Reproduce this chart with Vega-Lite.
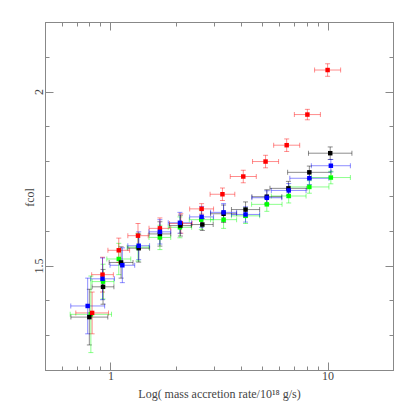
{
  "$schema": "https://vega.github.io/schema/vega-lite/v6.json",
  "autosize": "none",
  "width": 348,
  "height": 348,
  "padding": {"left": 45, "top": 22, "right": 22, "bottom": 45},
  "background": "white",
  "config": {
    "view": {"stroke": "#888888", "strokeWidth": 1},
    "axis": {
      "labelFont": "Liberation Serif",
      "titleFont": "Liberation Serif",
      "labelColor": "#444444",
      "titleColor": "#444444",
      "labelFontSize": 12,
      "titleFontSize": 12,
      "titleFontWeight": "normal",
      "domainColor": "#888888",
      "tickColor": "#888888",
      "grid": false
    }
  },
  "data": {
    "values": [
      {"s": "green", "x": 0.813, "y": 1.360, "xlo": 0.653, "xhi": 1.012, "ylo": 1.250, "yhi": 1.470},
      {"s": "green", "x": 0.925, "y": 1.454, "xlo": 0.824, "xhi": 1.038, "ylo": 1.404, "yhi": 1.504},
      {"s": "green", "x": 1.093, "y": 1.519, "xlo": 0.963, "xhi": 1.241, "ylo": 1.474, "yhi": 1.564},
      {"s": "green", "x": 1.34, "y": 1.553, "xlo": 1.194, "xhi": 1.503, "ylo": 1.513, "yhi": 1.593},
      {"s": "green", "x": 1.69, "y": 1.581, "xlo": 1.506, "xhi": 1.896, "ylo": 1.546, "yhi": 1.616},
      {"s": "green", "x": 2.09, "y": 1.610, "xlo": 1.846, "xhi": 2.366, "ylo": 1.580, "yhi": 1.640},
      {"s": "green", "x": 2.62, "y": 1.632, "xlo": 2.308, "xhi": 2.974, "ylo": 1.604, "yhi": 1.660},
      {"s": "green", "x": 3.32, "y": 1.632, "xlo": 2.892, "xhi": 3.811, "ylo": 1.607, "yhi": 1.657},
      {"s": "green", "x": 4.19, "y": 1.643, "xlo": 3.609, "xhi": 4.865, "ylo": 1.621, "yhi": 1.665},
      {"s": "green", "x": 5.25, "y": 1.676, "xlo": 4.468, "xhi": 6.169, "ylo": 1.656, "yhi": 1.696},
      {"s": "green", "x": 6.62, "y": 1.700, "xlo": 5.507, "xhi": 7.957, "ylo": 1.680, "yhi": 1.720},
      {"s": "green", "x": 8.24, "y": 1.726, "xlo": 6.699, "xhi": 10.14, "ylo": 1.708, "yhi": 1.744},
      {"s": "green", "x": 10.35, "y": 1.753, "xlo": 8.415, "xhi": 12.73, "ylo": 1.735, "yhi": 1.771},
      {"s": "red", "x": 0.824, "y": 1.364, "xlo": 0.693, "xhi": 0.980, "ylo": 1.304, "yhi": 1.424},
      {"s": "red", "x": 0.92, "y": 1.474, "xlo": 0.820, "xhi": 1.032, "ylo": 1.424, "yhi": 1.524},
      {"s": "red", "x": 1.093, "y": 1.544, "xlo": 0.974, "xhi": 1.226, "ylo": 1.509, "yhi": 1.579},
      {"s": "red", "x": 1.34, "y": 1.586, "xlo": 1.203, "xhi": 1.493, "ylo": 1.551, "yhi": 1.621},
      {"s": "red", "x": 1.69, "y": 1.607, "xlo": 1.506, "xhi": 1.896, "ylo": 1.577, "yhi": 1.637},
      {"s": "red", "x": 2.11, "y": 1.621, "xlo": 1.872, "xhi": 2.378, "ylo": 1.593, "yhi": 1.649},
      {"s": "red", "x": 2.63, "y": 1.663, "xlo": 2.317, "xhi": 2.985, "ylo": 1.648, "yhi": 1.678},
      {"s": "red", "x": 3.28, "y": 1.705, "xlo": 2.877, "xhi": 3.739, "ylo": 1.687, "yhi": 1.723},
      {"s": "red", "x": 4.09, "y": 1.756, "xlo": 3.563, "xhi": 4.695, "ylo": 1.738, "yhi": 1.774},
      {"s": "red", "x": 5.18, "y": 1.799, "xlo": 4.512, "xhi": 5.947, "ylo": 1.781, "yhi": 1.817},
      {"s": "red", "x": 6.48, "y": 1.846, "xlo": 5.645, "xhi": 7.439, "ylo": 1.828, "yhi": 1.864},
      {"s": "red", "x": 8.07, "y": 1.934, "xlo": 7.030, "xhi": 9.264, "ylo": 1.919, "yhi": 1.949},
      {"s": "red", "x": 10.0, "y": 2.062, "xlo": 8.711, "xhi": 11.48, "ylo": 2.044, "yhi": 2.080},
      {"s": "black", "x": 0.80, "y": 1.352, "xlo": 0.658, "xhi": 0.973, "ylo": 1.272, "yhi": 1.432},
      {"s": "black", "x": 0.925, "y": 1.439, "xlo": 0.824, "xhi": 1.038, "ylo": 1.389, "yhi": 1.489},
      {"s": "black", "x": 1.12, "y": 1.509, "xlo": 0.987, "xhi": 1.271, "ylo": 1.464, "yhi": 1.554},
      {"s": "black", "x": 1.35, "y": 1.550, "xlo": 1.203, "xhi": 1.515, "ylo": 1.510, "yhi": 1.590},
      {"s": "black", "x": 1.69, "y": 1.591, "xlo": 1.506, "xhi": 1.896, "ylo": 1.556, "yhi": 1.626},
      {"s": "black", "x": 2.1, "y": 1.615, "xlo": 1.872, "xhi": 2.356, "ylo": 1.585, "yhi": 1.645},
      {"s": "black", "x": 2.65, "y": 1.618, "xlo": 2.362, "xhi": 2.973, "ylo": 1.601, "yhi": 1.635},
      {"s": "black", "x": 3.32, "y": 1.649, "xlo": 2.892, "xhi": 3.811, "ylo": 1.624, "yhi": 1.674},
      {"s": "black", "x": 4.19, "y": 1.661, "xlo": 3.609, "xhi": 4.865, "ylo": 1.639, "yhi": 1.683},
      {"s": "black", "x": 5.25, "y": 1.698, "xlo": 4.480, "xhi": 6.153, "ylo": 1.678, "yhi": 1.718},
      {"s": "black", "x": 6.6, "y": 1.722, "xlo": 5.428, "xhi": 8.026, "ylo": 1.702, "yhi": 1.742},
      {"s": "black", "x": 8.24, "y": 1.768, "xlo": 6.545, "xhi": 10.37, "ylo": 1.750, "yhi": 1.786},
      {"s": "black", "x": 10.28, "y": 1.823, "xlo": 8.165, "xhi": 12.94, "ylo": 1.805, "yhi": 1.841},
      {"s": "blue", "x": 0.786, "y": 1.384, "xlo": 0.657, "xhi": 0.941, "ylo": 1.304, "yhi": 1.464},
      {"s": "blue", "x": 0.92, "y": 1.462, "xlo": 0.811, "xhi": 1.044, "ylo": 1.402, "yhi": 1.522},
      {"s": "blue", "x": 1.135, "y": 1.501, "xlo": 0.996, "xhi": 1.294, "ylo": 1.451, "yhi": 1.551},
      {"s": "blue", "x": 1.35, "y": 1.557, "xlo": 1.203, "xhi": 1.515, "ylo": 1.517, "yhi": 1.597},
      {"s": "blue", "x": 1.69, "y": 1.597, "xlo": 1.506, "xhi": 1.896, "ylo": 1.562, "yhi": 1.632},
      {"s": "blue", "x": 2.09, "y": 1.623, "xlo": 1.846, "xhi": 2.366, "ylo": 1.593, "yhi": 1.653},
      {"s": "blue", "x": 2.63, "y": 1.640, "xlo": 2.317, "xhi": 2.985, "ylo": 1.610, "yhi": 1.670},
      {"s": "blue", "x": 3.32, "y": 1.653, "xlo": 2.892, "xhi": 3.811, "ylo": 1.628, "yhi": 1.678},
      {"s": "blue", "x": 4.19, "y": 1.647, "xlo": 3.609, "xhi": 4.865, "ylo": 1.625, "yhi": 1.669},
      {"s": "blue", "x": 5.25, "y": 1.695, "xlo": 4.480, "xhi": 6.153, "ylo": 1.675, "yhi": 1.715},
      {"s": "blue", "x": 6.62, "y": 1.716, "xlo": 5.507, "xhi": 7.957, "ylo": 1.696, "yhi": 1.736},
      {"s": "blue", "x": 8.24, "y": 1.751, "xlo": 6.699, "xhi": 10.14, "ylo": 1.733, "yhi": 1.769},
      {"s": "blue", "x": 10.35, "y": 1.787, "xlo": 8.415, "xhi": 12.73, "ylo": 1.769, "yhi": 1.805}
    ]
  },
  "layer": [
    {
      "mark": {"type": "errorbar", "ticks": {"size": 5}, "opacity": 0.45},
      "encoding": {
        "x": {"field": "xlo", "type": "quantitative", "scale": {"type": "log", "domain": [0.5, 20], "nice": false}, "axis": null},
        "x2": {"field": "xhi"},
        "y": {"field": "y", "type": "quantitative", "scale": {"domain": [1.2, 2.2], "nice": false, "zero": false}, "axis": null},
        "color": {"field": "s", "type": "nominal", "scale": {"domain": ["red", "black", "blue", "green"], "range": ["#ff0000", "#000000", "#0000ff", "#00ff00"]}, "legend": null},
        "detail": {"field": "x", "type": "quantitative"}
      }
    },
    {
      "mark": {"type": "errorbar", "ticks": {"size": 5}, "opacity": 0.45},
      "encoding": {
        "y": {"field": "ylo", "type": "quantitative", "scale": {"domain": [1.2, 2.2], "nice": false, "zero": false}, "axis": null},
        "y2": {"field": "yhi"},
        "x": {"field": "x", "type": "quantitative", "scale": {"type": "log", "domain": [0.5, 20], "nice": false}, "axis": null},
        "color": {"field": "s", "type": "nominal", "legend": null}
      }
    },
    {
      "mark": {"type": "square", "filled": true, "size": 20, "opacity": 1},
      "encoding": {
        "x": {
          "field": "x", "type": "quantitative",
          "scale": {"type": "log", "domain": [0.5, 20], "nice": false},
          "axis": {
            "orient": "bottom",
            "title": "Log( mass accretion rate/10¹⁸ g/s)",
            "values": [0.5, 0.6, 0.7, 0.8, 0.9, 1, 2, 3, 4, 5, 6, 7, 8, 9, 10, 20],
            "format": "~g",
            "labelExpr": "datum.value == 1 || datum.value == 10 ? datum.label : ''",
            "tickSize": {"condition": {"test": "datum.value == 1 || datum.value == 10", "value": -8}, "value": -4},
            "labelPadding": 8,
            "labelFlush": false,
            "labelOverlap": false,
            "titlePadding": 3
          }
        },
        "y": {
          "field": "y", "type": "quantitative",
          "scale": {"domain": [1.2, 2.2], "nice": false, "zero": false},
          "axis": {
            "orient": "left",
            "title": "fcol",
            "values": [1.2, 1.3, 1.4, 1.5, 1.6, 1.7, 1.8, 1.9, 2.0, 2.1, 2.2],
            "format": "~g",
            "labelExpr": "datum.value == 1.5 || datum.value == 2 ? datum.label : ''",
            "tickSize": {"condition": {"test": "datum.value == 1.5 || datum.value == 2", "value": -8}, "value": -4},
            "labelAngle": -90,
            "labelAlign": "center",
            "labelBaseline": "bottom",
            "labelPadding": 8,
            "labelFlush": false,
            "labelOverlap": false,
            "titleAngle": -90,
            "titleX": -9,
            "titleY": 175,
            "titleAlign": "center",
            "titleBaseline": "bottom"
          }
        },
        "color": {"field": "s", "type": "nominal", "legend": null}
      }
    },
    {
      "mark": {"type": "point", "opacity": 0},
      "encoding": {
        "x": {
          "field": "x", "type": "quantitative",
          "scale": {"type": "log", "domain": [0.5, 20], "nice": false},
          "axis": {
            "orient": "top", "title": null, "labels": false,
            "values": [0.5, 0.6, 0.7, 0.8, 0.9, 1, 2, 3, 4, 5, 6, 7, 8, 9, 10, 20],
            "tickSize": {"condition": {"test": "datum.value == 1 || datum.value == 10", "value": -8}, "value": -4}
          }
        },
        "y": {
          "field": "y", "type": "quantitative",
          "scale": {"domain": [1.2, 2.2], "nice": false, "zero": false},
          "axis": {
            "orient": "right", "title": null, "labels": false,
            "values": [1.2, 1.3, 1.4, 1.5, 1.6, 1.7, 1.8, 1.9, 2.0, 2.1, 2.2],
            "tickSize": {"condition": {"test": "datum.value == 1.5 || datum.value == 2", "value": -8}, "value": -4}
          }
        }
      }
    }
  ],
  "resolve": {"axis": {"x": "independent", "y": "independent"}}
}
